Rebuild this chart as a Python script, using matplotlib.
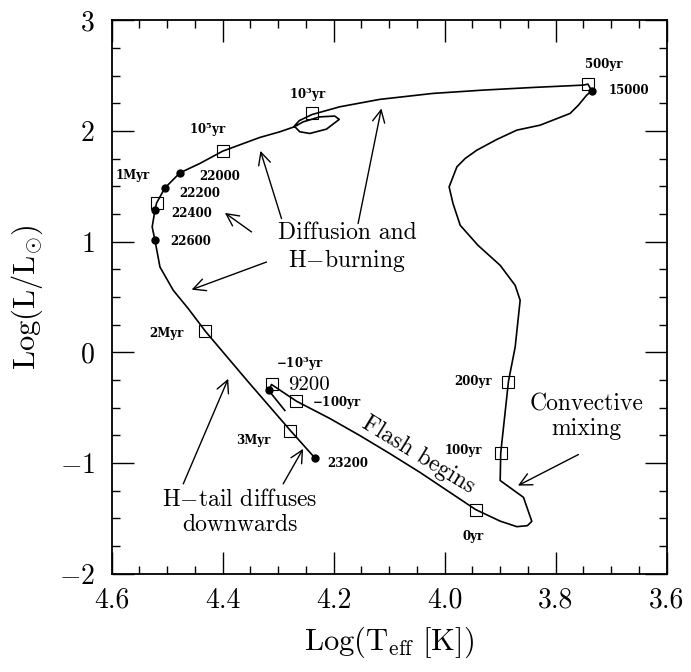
import matplotlib
matplotlib.use("Agg")
import matplotlib.pyplot as plt
from matplotlib.ticker import MultipleLocator, FormatStrFormatter

plt.rcParams['font.family'] = ['cmr10', 'DejaVu Serif']
plt.rcParams['mathtext.fontset'] = 'cm'
plt.rcParams['axes.formatter.use_mathtext'] = True

# evolutionary track (log Teff, log L)
track_logT = [4.317, 4.312, 4.267, 4.207, 4.153, 4.099, 4.044, 3.990, 3.944, 3.900,
              3.870, 3.851, 3.843,
              3.858, 3.900, 3.899, 3.885, 3.873, 3.864, 3.873, 3.900, 3.940, 3.972,
              3.985, 3.992, 3.978, 3.963, 3.942, 3.906, 3.870, 3.828, 3.774, 3.759,
              3.744, 3.735, 3.742, 3.750, 3.840, 3.930, 4.021, 4.117, 4.189, 4.239,
              4.262, 4.271,
              4.261, 4.243, 4.213, 4.190, 4.198, 4.225, 4.255, 4.271,
              4.297, 4.333, 4.400, 4.441, 4.477, 4.504, 4.519, 4.522, 4.527, 4.522,
              4.513, 4.489, 4.462, 4.431, 4.355, 4.278, 4.234]
track_logL = [-0.344, -0.290, -0.441, -0.597, -0.751, -0.914, -1.086, -1.267, -1.421, -1.525,
              -1.575, -1.566, -1.527,
              -1.310, -1.158, -0.908, -0.260, 0.048, 0.471, 0.606, 0.787, 0.968, 1.149,
              1.346, 1.496, 1.677, 1.753, 1.828, 1.925, 2.009, 2.054, 2.160, 2.235,
              2.326, 2.365, 2.425, 2.416, 2.395, 2.371, 2.341, 2.287, 2.220, 2.150,
              2.095, 2.045,
              1.994, 1.979, 2.018, 2.106, 2.136, 2.129, 2.084, 2.039,
              1.994, 1.943, 1.819, 1.708, 1.623, 1.487, 1.351, 1.285, 1.134, 1.014,
              0.772, 0.561, 0.396, 0.190, -0.260, -0.706, -0.953]

# short segment near the 9200 point
seg_logT = [4.317, 4.288]
seg_logL = [-0.344, -0.525]

# age markers (open squares)
age_labels = ['500yr', r'$\mathbf{10^3yr}$', r'$\mathbf{10^5yr}$', '1Myr', '2Myr', '3Myr',
              r'$\mathbf{-10^3yr}$', r'$\mathbf{-100yr}$', '0yr', '100yr', '200yr']
age_logT = [3.742, 4.239, 4.400, 4.519, 4.431, 4.278, 4.312, 4.267, 3.944, 3.899, 3.885]
age_logL = [2.425, 2.160, 1.819, 1.351, 0.190, -0.706, -0.290, -0.441, -1.421, -0.908, -0.264]
age_lab_T = [3.713, 4.246, 4.426, 4.562, 4.501, 4.345, 4.261, 4.195, 3.948, 3.967, 3.948]
age_lab_L = [2.600, 2.335, 2.015, 1.600, 0.169, -0.796, -0.100, -0.450, -1.665, -0.887, -0.262]

# model markers (filled dots)
dot_labels = ['15000', '22000', '22200', '22400', '22600', '9200', '23200']
dot_logT = [3.735, 4.477, 4.504, 4.522, 4.522, 4.317, 4.234]
dot_logL = [2.365, 1.623, 1.487, 1.285, 1.014, -0.344, -0.953]
dot_lab_T = [3.669, 4.405, 4.441, 4.456, 4.457, 4.244, 4.174]
dot_lab_L = [2.365, 1.586, 1.436, 1.255, 0.998, -0.292, -1.002]

# arrows: (tail T, tail L, head T, head L)
arrow_tail_T = [4.348, 4.294, 4.156, 4.321, 4.471, 4.291, 3.759]
arrow_tail_L = [1.089, 1.210, 1.165, 0.817, -1.188, -1.188, -0.923]
arrow_head_T = [4.396, 4.332, 4.114, 4.456, 4.390, 4.255, 3.868]
arrow_head_L = [1.261, 1.822, 2.205, 0.567, -0.238, -0.871, -1.204]

fig = plt.figure(figsize=(6.91, 6.72), dpi=100)
ax = fig.add_axes([0.1616, 0.1463, 0.8032, 0.8232])

ax.plot(track_logT, track_logL, color='k', lw=1.2, solid_joinstyle='round')
ax.plot(seg_logT, seg_logL, color='k', lw=1.2)
ax.plot(age_logT, age_logL, ls='none', marker='s', ms=9, mfc='none', mec='k', mew=0.8)
ax.plot(dot_logT, dot_logL, ls='none', marker='o', ms=5, color='k')

small = dict(family='DejaVu Serif', fontweight='bold', fontsize=8.5,
             ha='center', va='center', math_fontfamily='dejavuserif')
for lab, x, y in zip(age_labels, age_lab_T, age_lab_L):
    ax.text(x, y, lab, **small)
for lab, x, y in zip(dot_labels, dot_lab_T, dot_lab_L):
    if lab == '9200':
        ax.text(x, y, lab, fontsize=15, ha='center', va='center')
    else:
        ax.text(x, y, lab, **small)

for tx, ty, hx, hy in zip(arrow_tail_T, arrow_tail_L, arrow_head_T, arrow_head_L):
    ax.annotate('', xy=(hx, hy), xytext=(tx, ty),
                arrowprops=dict(arrowstyle='->', lw=1.0, color='k', mutation_scale=22,
                                shrinkA=0, shrinkB=0))

big = dict(fontsize=17, ha='center', va='center', linespacing=1.15)
ax.text(4.176, 0.94, 'Diffusion and\nH$-$burning', **big)
ax.text(4.369, -1.445, 'H$-$tail diffuses\ndownwards', **big)
ax.text(3.744, -0.58, 'Convective\nmixing', **big)
ax.text(4.047, -0.93, 'Flash begins', fontsize=17, ha='center', va='center',
        rotation=-31.5, rotation_mode='anchor')

ax.set_xlim(4.6, 3.6)
ax.set_ylim(-2, 3)
ax.xaxis.set_major_locator(MultipleLocator(0.2))
ax.xaxis.set_minor_locator(MultipleLocator(0.05))
ax.yaxis.set_major_locator(MultipleLocator(1))
ax.yaxis.set_minor_locator(MultipleLocator(0.25))
ax.xaxis.set_major_formatter(FormatStrFormatter('%.1f'))
ax.tick_params(which='both', direction='in', top=True, right=True, width=1.0)
ax.tick_params(which='major', length=16, labelsize=20)
ax.tick_params(which='minor', length=6)
ax.tick_params(axis='x', which='major', pad=10)
ax.tick_params(axis='y', which='major', pad=12)
for s in ax.spines.values():
    s.set_linewidth(1.3)

ax.set_xlabel(r'$\mathrm{Log(T_{eff}\ [K])}$', fontsize=22, labelpad=8)
ax.set_ylabel(r'$\mathrm{Log(L/L_{\odot})}$', fontsize=22, labelpad=10)

fig.savefig('out.png', dpi=100)
